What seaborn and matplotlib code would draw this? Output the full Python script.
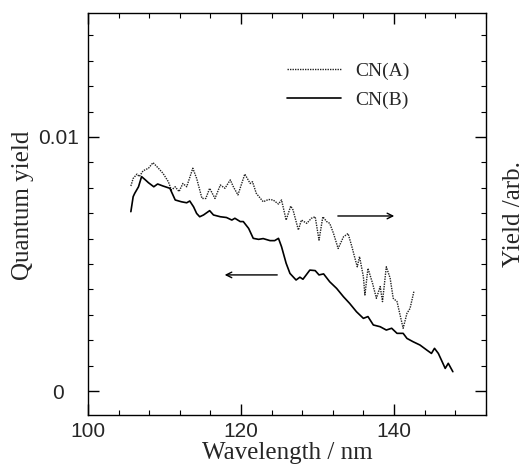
import numpy as np
import pandas as pd
import matplotlib
matplotlib.use('Agg')
import matplotlib.pyplot as plt
import seaborn as sns

# Dados (comprimento de onda em nm, rendimento quantico)
wl_b = [105.6, 105.9, 106.1, 106.6, 107.0, 107.5, 107.9, 108.6, 109.1, 109.8,
        110.7, 111.4, 112.2, 112.9, 113.3, 113.8, 114.2, 114.6, 115.1, 115.9,
        116.4, 117.3, 118.1, 118.8, 119.2, 119.9, 120.3, 121.0, 121.6, 122.3,
        122.9, 123.8, 124.4, 124.9, 125.3, 125.9, 126.4, 127.2, 127.7, 128.1,
        129.0, 129.7, 130.2, 130.8, 131.6, 132.5, 133.4, 134.2, 135.1, 136.0,
        136.6, 137.3, 138.2, 139.0, 139.7, 140.4, 141.2, 141.7, 142.5, 143.4,
        144.3, 144.9, 145.3, 145.8, 146.2, 146.7, 147.1, 147.7]
qy_b = [0.00706, 0.00765, 0.00778, 0.00804, 0.00844, 0.00831, 0.00820, 0.00804, 0.00815, 0.00807,
        0.00798, 0.00752, 0.00745, 0.00741, 0.00748, 0.00725, 0.00699, 0.00686, 0.00693, 0.00710,
        0.00693, 0.00686, 0.00683, 0.00673, 0.00680, 0.00667, 0.00667, 0.00640, 0.00601, 0.00597,
        0.00600, 0.00592, 0.00592, 0.00601, 0.00568, 0.00503, 0.00463, 0.00437, 0.00448, 0.00440,
        0.00476, 0.00474, 0.00457, 0.00461, 0.00430, 0.00404, 0.00371, 0.00345, 0.00312, 0.00286,
        0.00293, 0.00260, 0.00253, 0.00240, 0.00247, 0.00227, 0.00227, 0.00207, 0.00194, 0.00181,
        0.00161, 0.00148, 0.00168, 0.00148, 0.00122, 0.00089, 0.00109, 0.00076]

wl_a = [105.6, 105.9, 106.4, 106.7, 107.2, 107.9, 108.5, 109.2, 109.8, 110.5,
        110.9, 111.4, 111.9, 112.4, 112.9, 113.7, 114.2, 114.9, 115.4, 115.9,
        116.6, 117.3, 117.9, 118.6, 119.0, 119.6, 120.5, 121.2, 121.5, 122.0,
        122.9, 123.6, 124.2, 124.9, 125.3, 125.9, 126.5, 126.8, 127.5, 127.9,
        128.6, 129.2, 129.7, 130.2, 130.7, 131.2, 131.6, 132.1, 132.7, 133.4,
        134.0, 134.5, 134.9, 135.2, 135.5, 136.0, 136.2, 136.6, 137.2, 137.7,
        138.2, 138.5, 139.0, 139.5, 139.9, 140.4, 140.8, 141.2, 141.7, 142.1,
        142.6]
qy_a = [0.00807, 0.00837, 0.00854, 0.00844, 0.00867, 0.00877, 0.00899, 0.00877, 0.00857, 0.00824,
        0.00791, 0.00804, 0.00785, 0.00817, 0.00804, 0.00877, 0.00837, 0.00758, 0.00758, 0.00798,
        0.00758, 0.00811, 0.00798, 0.00831, 0.00804, 0.00772, 0.00854, 0.00817, 0.00824, 0.00778,
        0.00745, 0.00754, 0.00752, 0.00736, 0.00752, 0.00673, 0.00728, 0.00713, 0.00634, 0.00673,
        0.00660, 0.00680, 0.00686, 0.00594, 0.00686, 0.00667, 0.00660, 0.00620, 0.00561, 0.00607,
        0.00620, 0.00568, 0.00522, 0.00489, 0.00529, 0.00450, 0.00378, 0.00483, 0.00424, 0.00365,
        0.00411, 0.00352, 0.00489, 0.00444, 0.00365, 0.00352, 0.00299, 0.00247, 0.00306, 0.00325,
        0.00391]

df_a = pd.DataFrame({'wl': wl_a, 'qy': qy_a})
df_b = pd.DataFrame({'wl': wl_b, 'qy': qy_b})

sns.set_style('ticks')
plt.rcParams['font.family'] = ['Liberation Sans', 'DejaVu Sans']

fig = plt.figure(figsize=(5.24, 4.65), dpi=100)
ax = fig.add_axes([0.168, 0.1075, 0.759, 0.8645])

sns.lineplot(data=df_a, x='wl', y='qy', ax=ax, color='#222222', lw=1.0,
             linestyle=(0, (1, 0.8)), label='CN(A)', sort=False)
sns.lineplot(data=df_b, x='wl', y='qy', ax=ax, color='black', lw=1.2,
             label='CN(B)', sort=False)

ax.set_xlim(100, 152)
ax.set_ylim(-0.000945, 0.01488)
ax.set_xticks([100, 120, 140])
ax.set_xticks(np.arange(100, 153, 4), minor=True)
ax.set_yticks([0, 0.01])
ax.set_yticklabels(['0', '0.01'])
ax.set_yticks(np.arange(0, 0.0149, 0.001), minor=True)
ax.set_xticklabels(['100', '120', '140'])

ax.tick_params(which='both', direction='in', top=True, right=True, color='black')
ax.tick_params(which='major', length=8, width=1)
ax.tick_params(which='minor', length=3.5, width=0.8)
ax.tick_params(axis='x', which='major', labelsize=15, pad=5)
ax.tick_params(axis='y', which='major', labelsize=15, pad=21.5)
for lbl in ax.get_yticklabels():
    lbl.set_ha('center')
for s in ax.spines.values():
    s.set_linewidth(1.0)
    s.set_color('black')

serif = ['Liberation Serif', 'DejaVu Serif']
ax.set_xlabel('Wavelength / nm', family=serif, fontsize=18, labelpad=0.5)
ax.set_ylabel('Quantum yield', family=serif, fontsize=18)
ax.yaxis.set_label_coords(-0.135, 0.522)
fig.text(0.981, 0.54, 'Yield /arb.', family=serif, fontsize=18, rotation=90,
         ha='center', va='center')

# setas indicando o eixo de cada curva
ax.annotate('', xy=(140.4, 0.00689), xytext=(132.3, 0.00689),
            arrowprops=dict(arrowstyle='->', color='black', lw=1.0))
ax.annotate('', xy=(117.5, 0.00457), xytext=(125.1, 0.00457),
            arrowprops=dict(arrowstyle='->', color='black', lw=1.0))

ax.legend(loc='upper left', bbox_to_anchor=(0.50, 0.877), frameon=False,
          prop={'family': serif, 'size': 14}, handlelength=2.8,
          handletextpad=0.7, labelspacing=0.55, borderpad=0, borderaxespad=0)

fig.savefig('out.png', dpi=100)
